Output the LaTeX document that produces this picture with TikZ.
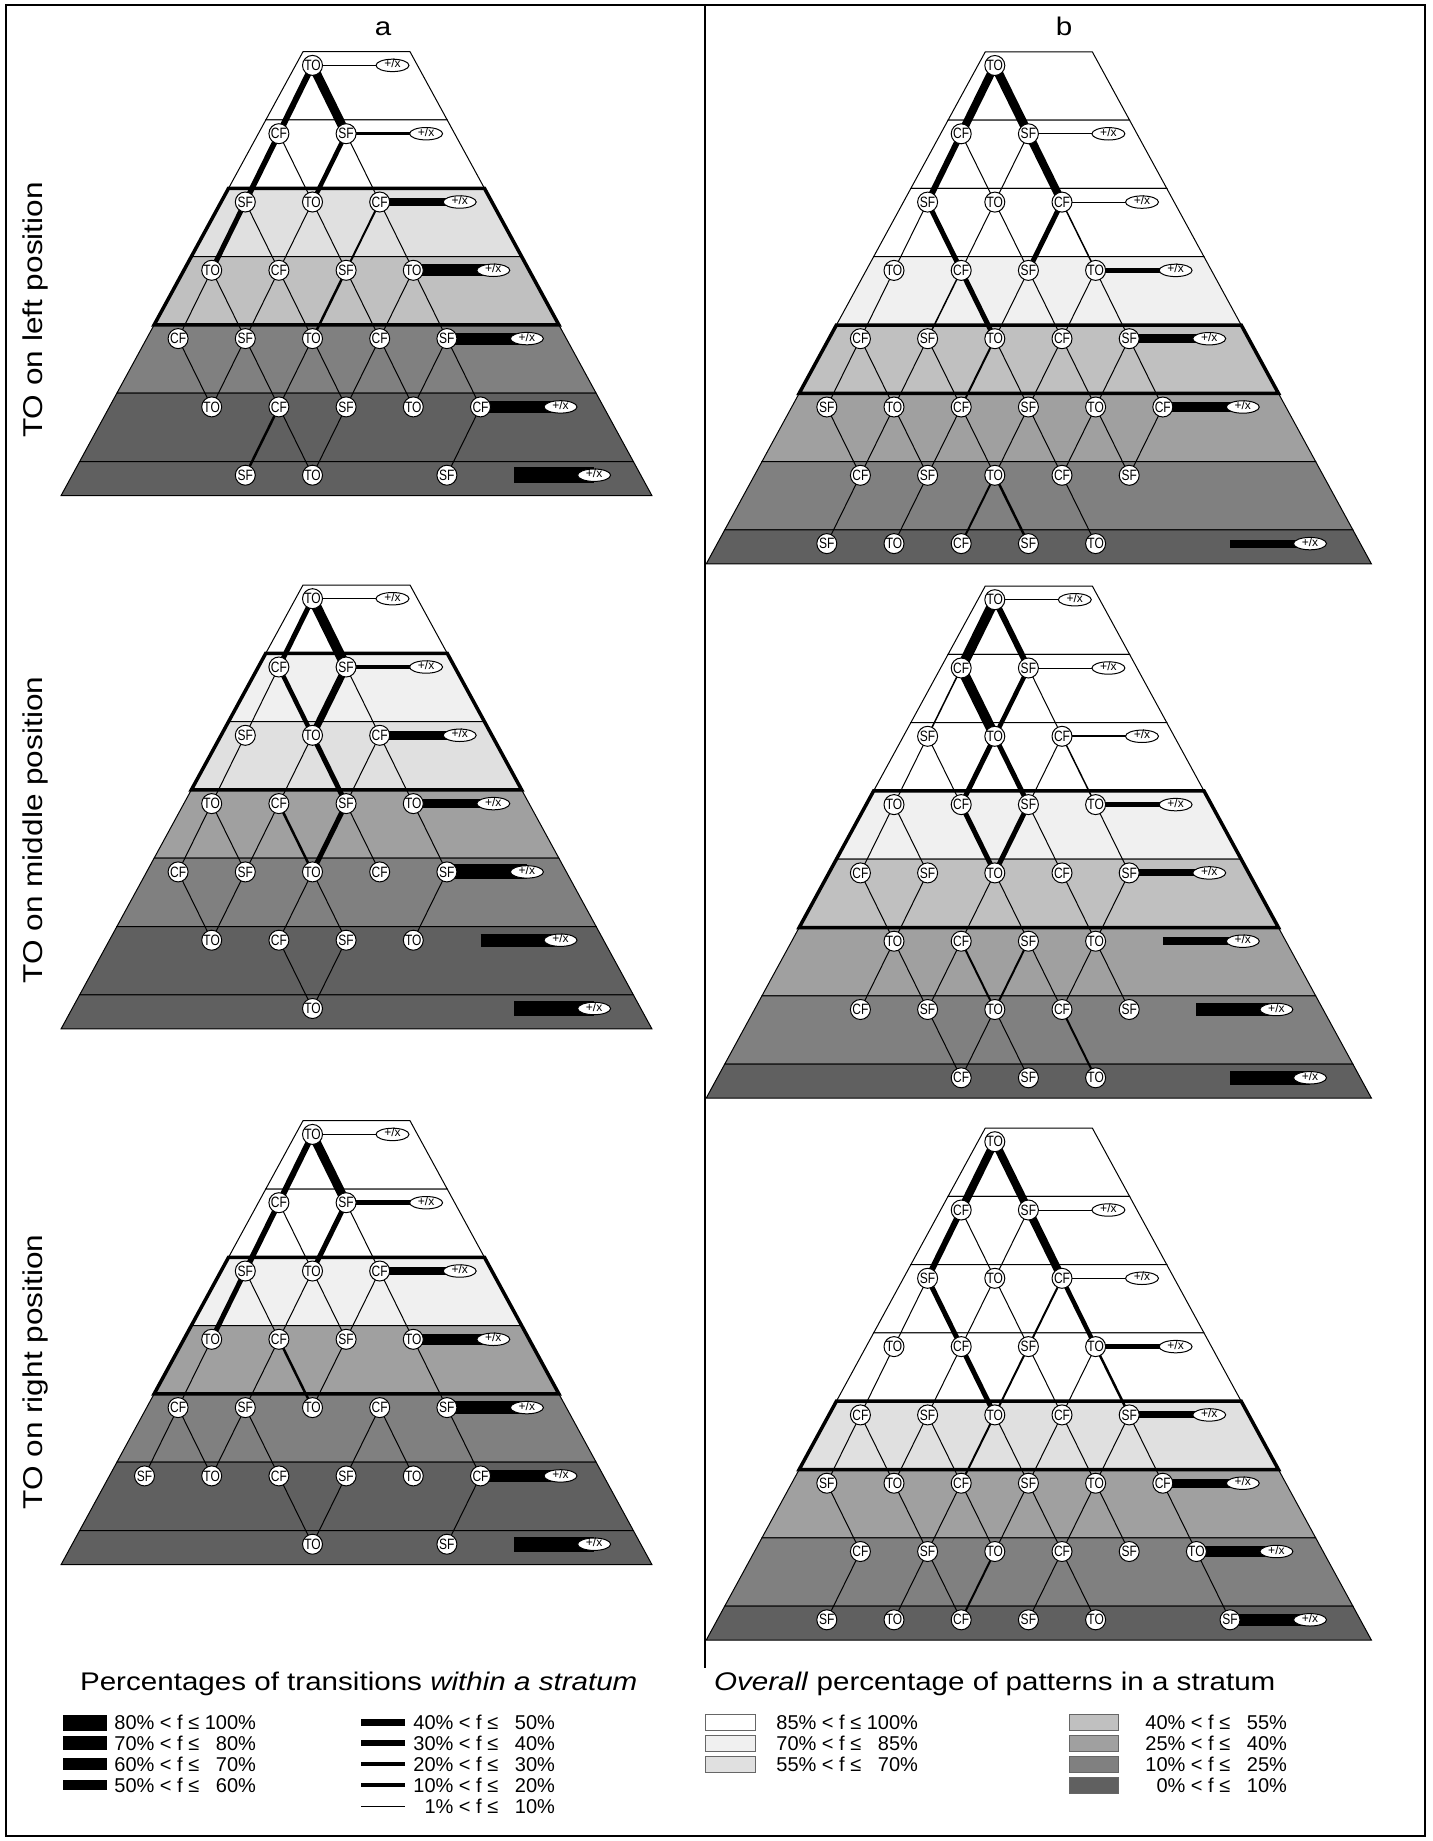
\documentclass[tikz,border=0pt]{standalone}
\usepackage{fontspec}
\setmainfont{Liberation Sans}
\newfontfamily\narrowfont{Liberation Sans}[FakeStretch=0.8]
\newfontfamily\widefont{Liberation Sans}[FakeStretch=1.16]
\usetikzlibrary{shapes.geometric}
\definecolor{g85}{HTML}{F0F0F0}
\definecolor{g70}{HTML}{E0E0E0}
\definecolor{g55}{HTML}{C0C0C0}
\definecolor{g40}{HTML}{A0A0A0}
\definecolor{g25}{HTML}{808080}
\definecolor{g10}{HTML}{606060}
\pgfdeclarelayer{strata}
\pgfdeclarelayer{links}
\pgfsetlayers{strata,links,main}

\newcommand{\prow}{68.3}
\newcommand{\pcol}{33.6}

% strata: #1 x of top TO, #2 y of top edge, #3 number of strata, #4 fills
\newcommand{\pyrstrata}[4]{%
  \begin{pgfonlayer}{strata}
  \foreach \fc [count=\k from 0] in {#4} {
    \pgfmathsetmacro\yt{#2+\prow*\k}
    \pgfmathsetmacro\yb{\k==#3-1 ? \yt+34 : \yt+\prow}
    \pgfmathsetmacro\hwt{53.5+0.545*(\yt-#2)}
    \pgfmathsetmacro\hwb{53.5+0.545*(\yb-#2)}
    \filldraw[fill=\fc, line width=0.5pt] (#1+44-\hwt,\yt) -- (#1+44+\hwt,\yt)
      -- (#1+44+\hwb,\yb) -- (#1+44-\hwb,\yb) -- cycle;
  }
  \end{pgfonlayer}}

% thick frame round the modal strata: #1 x, #2 y top, #3 first, #4 last
\newcommand{\pyrmodal}[4]{%
  \begin{pgfonlayer}{strata}
  \pgfmathsetmacro\yt{#2+\prow*#3}
  \pgfmathsetmacro\yb{#2+\prow*(#4+1)}
  \pgfmathsetmacro\hwt{53.5+0.545*(\yt-#2)}
  \pgfmathsetmacro\hwb{53.5+0.545*(\yb-#2)}
  \draw[line width=1.75pt] (#1+44-\hwt,\yt) -- (#1+44+\hwt,\yt)
    -- (#1+44+\hwb,\yb) -- (#1+44-\hwb,\yb) -- cycle;
  \end{pgfonlayer}}

% patterns: #1 name, #2 x, #3 y top, #4 row/{columns}
\newcommand{\pyrnodes}[4]{%
  \foreach \rw/\js in {#4} {
    \pgfmathsetmacro\yy{#3+13.7+\prow*\rw}
    \foreach \jj in \js {
      \pgfmathtruncatemacro\lab{mod(\jj+30,3)}
      \pgfmathtruncatemacro\cidx{\jj+10}
      \node[pat] (#1r\rw c\cidx) at (#2+\pcol*\jj,\yy) {\ifcase\lab TO\or SF\or CF\fi};
    }
  }}

% transitions: #1 name, #2 row/from/to/width(px)
\newcommand{\pyrlinks}[2]{%
  \begin{pgfonlayer}{links}
  \foreach \rw/\ja/\jb/\lw in {#2} {
    \pgfmathtruncatemacro\rn{\rw+1}
    \pgfmathtruncatemacro\ca{\ja+10}
    \pgfmathtruncatemacro\cbb{\jb+10}
    \draw[line width=\lw*0.5pt] (#1r\rw c\ca.center) -- (#1r\rn c\cbb.center);
  }
  \end{pgfonlayer}}

% +/x exits: #1 name, #2 x, #3 y top, #4 row/width(px)
\newcommand{\pyrexits}[4]{%
  \foreach \rw/\lw in {#4} {
    \pgfmathsetmacro\yy{#3+13.7+\prow*\rw}
    \pgfmathsetmacro\xx{#2+\pcol*\rw}
    \coordinate (#1b\rw) at (\xx,\yy);
    \node[exitnode] (#1x\rw) at (\xx+80,\yy) {+/x};
    \begin{pgfonlayer}{links}
      \draw[line width=\lw*0.5pt] (#1b\rw) -- (#1x\rw.center);
    \end{pgfonlayer}
  }}

\begin{document}
\begin{tikzpicture}[x=0.5pt, y=-0.5pt,
  pat/.style={circle, draw, fill=white, line width=0.5pt, inner sep=0pt,
    minimum size=10pt, font=\narrowfont\fontsize{7.5}{8}\selectfont},
  exitnode/.style={ellipse, draw, fill=white, line width=0.5pt, inner sep=0pt,
    minimum width=16.5pt, minimum height=6.2pt, text height=2.9pt, text depth=0.4pt,
    font=\fontsize{6}{7}\selectfont},
  bigtext/.style={font=\widefont\fontsize{12.75}{15}\selectfont},
  sidetext/.style={font=\widefont\fontsize{13.6}{16}\selectfont, rotate=90},
  legtext/.style={anchor=base west, inner sep=0pt, font=\fontsize{10}{12}\selectfont}]
\useasboundingbox (0,0) rectangle (1433,1841);
% frame
\draw[line width=1pt] (6,5) rectangle (1425,1836);
\draw[line width=1pt] (705,5) -- (705,1668);
\node[bigtext, anchor=base] (ta) at (383,36) {a};
\node[bigtext, anchor=base] (tb) at (1064,36) {b};
\node[sidetext] (posl) at (35,310) {TO on left position};
\node[sidetext] (posm) at (35,830) {TO on middle position};
\node[sidetext] (posr) at (35,1372) {TO on right position};

% a1
\pyrstrata{312.5}{51.7}{7}{white,white,g70,g55,g25,g10,g10}
\pyrmodal{312.5}{51.7}{2}{3}
\pyrnodes{aa}{312.5}{51.7}{0/{0},1/{-1,1},2/{-2,0,2},3/{-3,-1,1,3},4/{-4,-2,0,2,4},5/{-3,-1,1,3,5},6/{-2,0,4}}
\pyrlinks{aa}{0/0/-1/6,0/0/1/9,
  1/-1/-2/5.5,1/-1/0/1,1/1/0/4.5,1/1/2/1,
  2/-2/-3/5,2/-2/-1/1,2/0/-1/1,2/0/1/1,2/2/1/2,2/2/3/1,
  3/-3/-4/1,3/-3/-2/1,3/-1/-2/1,3/-1/0/1,3/1/0/2.5,3/1/2/1,3/3/2/1,3/3/4/1,
  4/-4/-3/1,4/-2/-3/1,4/-2/-1/1,4/0/-1/1,4/0/1/1,4/2/1/1,4/2/3/1,4/4/3/1,4/4/5/1,
  5/-1/-2/2.5,5/-1/0/1,5/1/0/1,5/5/4/1}
\pyrexits{aa}{312.5}{51.7}{0/1,1/2.5,2/7.5,3/12,4/12,5/12,6/15.5}

% a2
\pyrstrata{312.5}{585}{7}{white,g85,g70,g40,g25,g10,g10}
\pyrmodal{312.5}{585}{1}{2}
\pyrnodes{ab}{312.5}{585}{0/{0},1/{-1,1},2/{-2,0,2},3/{-3,-1,1,3},4/{-4,-2,0,2,4},5/{-3,-1,1,3},6/{0}}
\pyrlinks{ab}{0/0/-1/5,0/0/1/10,
  1/-1/-2/1,1/-1/0/4.5,1/1/0/7,1/1/2/1,
  2/-2/-3/1,2/0/-1/1,2/0/1/5,2/2/1/1,2/2/3/1,
  3/-3/-4/1,3/-3/-2/1,3/-1/-2/1,3/-1/0/2.5,3/1/0/5,3/1/2/1,3/3/4/1,
  4/-4/-3/1,4/-2/-3/1,4/0/-1/1,4/0/1/1,4/4/3/1,
  5/-1/0/1,5/1/0/1}
\pyrexits{ab}{312.5}{585}{0/1,1/4.5,2/8.5,3/9.5,4/15,5/13,6/15}

% a3
\pyrstrata{312.5}{1120.7}{7}{white,white,g85,g40,g25,g10,g10}
\pyrmodal{312.5}{1120.7}{2}{3}
\pyrnodes{ac}{312.5}{1120.7}{0/{0},1/{-1,1},2/{-2,0,2},3/{-3,-1,1,3},4/{-4,-2,0,2,4},5/{-5,-3,-1,1,3,5},6/{0,4}}
\pyrlinks{ac}{0/0/-1/6,0/0/1/9,
  1/-1/-2/5.5,1/-1/0/1,1/1/0/5,1/1/2/1,
  2/-2/-3/5,2/-2/-1/1,2/0/-1/1,2/0/1/1,2/2/1/1,2/2/3/1,
  3/-3/-4/1,3/-1/-2/1,3/-1/0/2.5,3/1/0/1,3/3/4/1,
  4/-4/-5/1,4/-4/-3/1,4/-2/-3/1,4/-2/-1/1,4/2/1/1,4/2/3/1,4/4/5/1,
  5/-1/0/1,5/1/0/1,5/5/4/1}
\pyrexits{ac}{312.5}{1120.7}{0/1,1/5,2/8,3/11.5,4/13,5/12.5,6/15}

% b1
\pyrstrata{994.8}{51.8}{8}{white,white,white,g85,g55,g40,g25,g10}
\pyrmodal{994.8}{51.8}{4}{4}
\pyrnodes{ba}{994.8}{51.8}{0/{0},1/{-1,1},2/{-2,0,2},3/{-3,-1,1,3},4/{-4,-2,0,2,4},5/{-5,-3,-1,1,3,5},6/{-4,-2,0,2,4},7/{-5,-3,-1,1,3}}
\pyrlinks{ba}{0/0/-1/8,0/0/1/9,
  1/-1/-2/6,1/-1/0/1,1/1/0/1,1/1/2/8,
  2/-2/-3/1,2/-2/-1/5,2/0/-1/1,2/0/1/1,2/2/1/5,2/2/3/1.5,
  3/-3/-4/1,3/-1/-2/1.5,3/-1/0/5,3/1/0/1,3/1/2/1,3/3/2/1,3/3/4/1,
  4/-4/-5/1,4/-4/-3/1,4/-2/-3/1,4/-2/-1/1,4/0/-1/2,4/0/1/1,4/2/1/1,4/2/3/1,4/4/3/1,4/4/5/1,
  5/-5/-4/1,5/-3/-4/1,5/-3/-2/1,5/-1/-2/1,5/-1/0/1,5/1/0/1,5/1/2/1,5/3/2/1,5/3/4/1,5/5/4/1,
  6/-4/-5/1,6/-2/-3/1,6/0/-1/2,6/0/1/2.5,6/2/3/1}
\pyrexits{ba}{994.8}{51.8}{1/1,2/1,3/5.5,4/9,5/10.5,7/8}

% b2
\pyrstrata{994.8}{586}{8}{white,white,white,g85,g55,g40,g25,g10}
\pyrmodal{994.8}{586}{3}{4}
\pyrnodes{bb}{994.8}{586}{0/{0},1/{-1,1},2/{-2,0,2},3/{-3,-1,1,3},4/{-4,-2,0,2,4},5/{-3,-1,1,3},6/{-4,-2,0,2,4},7/{-1,1,3}}
\pyrlinks{bb}{0/0/-1/10,0/0/1/6,
  1/-1/-2/1.5,1/-1/0/10,1/1/0/4.5,1/1/2/1,
  2/-2/-3/1,2/-2/-1/1,2/0/-1/5,2/0/1/5,2/2/1/1,2/2/3/1.5,
  3/-3/-4/1,3/-3/-2/1,3/-1/0/5,3/1/0/5,3/1/2/1,3/3/4/1,
  4/-4/-3/1,4/-2/-3/1,4/0/-1/1,4/0/1/1,4/2/3/1,4/4/3/1,
  5/-3/-4/1,5/-3/-2/1,5/-1/-2/1,5/-1/0/2,5/1/0/2,5/1/2/1,5/3/2/1,5/3/4/1,
  6/-2/-1/1,6/0/-1/1,6/0/1/1,6/2/3/2}
\pyrexits{bb}{994.8}{586}{0/1,1/1,2/2,3/5,4/7,5/8,6/13,7/14}

% b3
\pyrstrata{994.8}{1128}{8}{white,white,white,white,g70,g40,g25,g10}
\pyrmodal{994.8}{1128}{4}{4}
\pyrnodes{bc}{994.8}{1128}{0/{0},1/{-1,1},2/{-2,0,2},3/{-3,-1,1,3},4/{-4,-2,0,2,4},5/{-5,-3,-1,1,3,5},6/{-4,-2,0,2,4,6},7/{-5,-3,-1,1,3,7}}
\pyrlinks{bc}{0/0/-1/8,0/0/1/8,
  1/-1/-2/6,1/-1/0/1,1/1/0/1,1/1/2/8,
  2/-2/-3/1,2/-2/-1/5,2/0/-1/1,2/0/1/1,2/2/1/2,2/2/3/4.5,
  3/-3/-4/1,3/-1/-2/1,3/-1/0/5,3/1/0/2,3/1/2/1,3/3/2/1,3/3/4/2.5,
  4/-4/-5/1,4/-4/-3/1,4/-2/-3/1,4/-2/-1/1,4/0/-1/2,4/0/1/1,4/2/1/1,4/2/3/1,4/4/3/1,4/4/5/1,
  5/-5/-4/1,5/-3/-2/1,5/-1/-2/1,5/-1/0/1,5/1/0/1,5/1/2/1,5/3/2/1,5/3/4/1,5/5/6/1,
  6/-4/-5/1,6/-2/-3/1,6/-2/-1/1,6/0/-1/2,6/2/1/1,6/2/3/1,6/6/7/1}
\pyrexits{bc}{994.8}{1128}{1/1,2/1,3/5.5,4/7,5/9,6/10.5,7/12.5}

% legend, transitions
\node[bigtext, anchor=base west] (legw) at (73,1690) {Percentages of transitions \textit{within a stratum}};
\foreach \yy/\hh/\txt [count=\i] in {1722.5/16/80\% < f ≤ 100\%, 1743/14/70\% < f ≤ \phantom{1}80\%,
    1764/12.7/60\% < f ≤ \phantom{1}70\%, 1785/10/50\% < f ≤ \phantom{1}60\%} {
  \fill (63,\yy-\hh/2) rectangle (107,\yy+\hh/2);
  \node[legtext] (wa\i) at (114,\yy+7) {\txt};
}
\foreach \yy/\hh/\txt [count=\i] in {1722.5/7.3/40\% < f ≤ \phantom{1}50\%, 1743/6/30\% < f ≤ \phantom{1}40\%,
    1764/4.7/20\% < f ≤ \phantom{1}30\%, 1785/3.3/10\% < f ≤ \phantom{1}20\%, 1806/1/\phantom{1}1\% < f ≤ \phantom{1}10\%} {
  \fill (361,\yy-\hh/2) rectangle (405,\yy+\hh/2);
  \node[legtext] (wb\i) at (413,\yy+7) {\txt};
}
% legend, strata
\node[bigtext, anchor=base west] (lego) at (707,1690) {\textit{Overall} percentage of patterns in a stratum};
\foreach \yy/\fc/\txt [count=\i] in {1722.5/white/85\% < f ≤ 100\%, 1743/g85/70\% < f ≤ \phantom{1}85\%,
    1764/g70/55\% < f ≤ \phantom{1}70\%} {
  \filldraw[fill=\fc, draw=black!60, line width=0.5pt] (705,\yy-8) rectangle (755,\yy+8);
  \node[legtext] (oa\i) at (776,\yy+7) {\txt};
}
\foreach \yy/\fc/\txt [count=\i] in {1722.5/g55/40\% < f ≤ \phantom{1}55\%, 1743/g40/25\% < f ≤ \phantom{1}40\%,
    1764/g25/10\% < f ≤ \phantom{1}25\%, 1785/g10/\phantom{1}0\% < f ≤ \phantom{1}10\%} {
  \filldraw[fill=\fc, draw=black!60, line width=0.5pt] (1069,\yy-8) rectangle (1118,\yy+8);
  \node[legtext] (ob\i) at (1145,\yy+7) {\txt};
}
\end{tikzpicture}
\end{document}
